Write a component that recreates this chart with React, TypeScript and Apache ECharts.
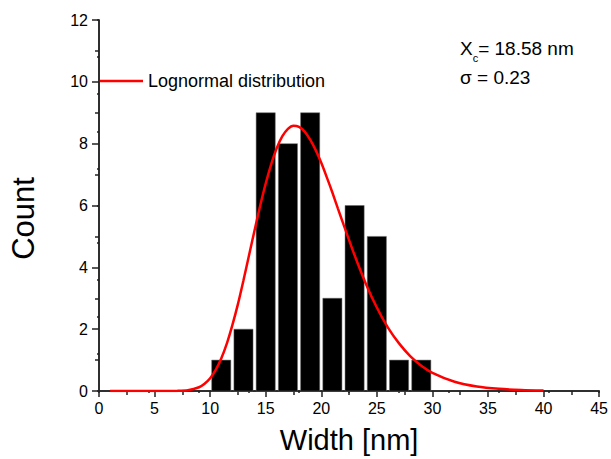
import React, { useEffect, useRef } from "react";
import * as echarts from "echarts";

// Histogram bins (centres, nm) and counts
const binCenters = [11, 13, 15, 17, 19, 21, 23, 25, 27, 29];
const counts = [1, 2, 9, 8, 9, 3, 6, 5, 1, 1];

// Lognormal fit curve
const fitX = [1, 2, 3, 4, 5, 6, 7, 8, 9, 9.5, 10, 10.5, 11, 11.5, 12, 12.5, 13, 13.5, 14, 14.5, 15, 15.5, 16, 16.5, 17, 17.5, 18, 18.5, 19, 19.5, 20, 20.5, 21, 21.5, 22, 23, 24, 25, 26, 27, 28, 29, 30, 32, 34, 36, 38, 40];
const fitY = [0, 0, 0, 0, 0, 0.0002, 0.003, 0.024, 0.12, 0.232, 0.41, 0.68, 1.05, 1.53, 2.13, 2.81, 3.58, 4.39, 5.2, 5.99, 6.71, 7.34, 7.86, 8.24, 8.48, 8.58, 8.54, 8.39, 8.13, 7.79, 7.38, 6.91, 6.42, 5.9, 5.39, 4.39, 3.48, 2.7, 2.05, 1.54, 1.13, 0.82, 0.59, 0.3, 0.145, 0.069, 0.032, 0.015];

const xTicks = { min: 0, max: 45, interval: 5 };
const yTicks = { min: 0, max: 12, interval: 2 };

const FONT = "Liberation Sans, Arial, sans-serif";
const AXIS_COLOR = "#222";

export default function App() {
  const ref = useRef<HTMLDivElement>(null);

  useEffect(() => {
    if (!ref.current) return;
    const chart = echarts.init(ref.current, undefined, { renderer: "svg" });
    const barData = binCenters.map((c, i) => [c, counts[i]]);
    const lineData = fitX.map((x, i) => [x, fitY[i]]);

    chart.setOption({
      animation: false,
      backgroundColor: "#fff",
      grid: { left: 97, right: 8, top: 20, bottom: 68, containLabel: false },
      legend: {
        data: ["Lognormal distribution"],
        left: 100,
        top: 72,
        padding: 0,
        icon: "rect",
        itemWidth: 43,
        itemHeight: 2.5,
        textStyle: { fontFamily: FONT, fontSize: 18, color: "#000" },
      },
      xAxis: [
        {
          type: "value",
          position: "bottom",
          min: xTicks.min,
          max: xTicks.max,
          interval: xTicks.interval,
          name: "Width [nm]",
          nameLocation: "middle",
          nameGap: 34,
          nameTextStyle: { fontFamily: FONT, fontSize: 29, color: "#000" },
          axisLine: { show: true, lineStyle: { color: AXIS_COLOR, width: 1.5 } },
          axisTick: { show: true, inside: false, length: 6, lineStyle: { color: AXIS_COLOR, width: 1.5 } },
          minorTick: { show: true, splitNumber: 2, length: 4, lineStyle: { color: AXIS_COLOR, width: 1.5 } },
          axisLabel: { fontFamily: FONT, fontSize: 16, color: "#000", margin: 9 },
          splitLine: { show: false },
        },
        {
          type: "value",
          position: "top",
          min: 0,
          max: 10,
          interval: 1,
          axisLine: { show: true, lineStyle: { color: AXIS_COLOR, width: 1.5 } },
          axisTick: { show: true, inside: true, length: 2, lineStyle: { color: AXIS_COLOR, width: 1.5 } },
          axisLabel: { show: false },
          splitLine: { show: false },
        },
      ],
      yAxis: [
        {
          type: "value",
          position: "left",
          min: yTicks.min,
          max: yTicks.max,
          interval: yTicks.interval,
          name: "Count",
          nameLocation: "middle",
          nameGap: 60,
          nameTextStyle: { fontFamily: FONT, fontSize: 31, color: "#000", padding: [0, 26, 0, 0] },
          axisLine: { show: true, lineStyle: { color: AXIS_COLOR, width: 1.5 } },
          axisTick: { show: true, inside: false, length: 7, lineStyle: { color: AXIS_COLOR, width: 1.5 } },
          minorTick: { show: true, splitNumber: 2, length: 4, lineStyle: { color: AXIS_COLOR, width: 1.5 } },
          axisLabel: { fontFamily: FONT, fontSize: 16, color: "#000", margin: 11 },
          splitLine: { show: false },
        },
        {
          type: "value",
          position: "right",
          min: 0,
          max: 10,
          interval: 1,
          axisLine: { show: true, lineStyle: { color: AXIS_COLOR, width: 1.5 } },
          axisTick: { show: true, inside: true, length: 2, lineStyle: { color: AXIS_COLOR, width: 1.5 } },
          axisLabel: { show: false },
          splitLine: { show: false },
        },
      ],
      series: [
        {
          name: "Counts",
          type: "custom",
          xAxisIndex: 0,
          yAxisIndex: 0,
          data: barData,
          renderItem: (params: any, api: any) => {
            const x = api.value(0);
            const y = api.value(1);
            const p0 = api.coord([x - 0.86, y]);
            const p1 = api.coord([x + 0.86, 0]);
            return {
              type: "rect",
              shape: { x: p0[0], y: p0[1], width: p1[0] - p0[0], height: p1[1] - p0[1] },
              style: { fill: "#000", stroke: "#666", lineWidth: 0.5 },
            };
          },
          z: 2,
        },
        {
          name: "Lognormal distribution",
          type: "line",
          xAxisIndex: 0,
          yAxisIndex: 0,
          data: lineData,
          smooth: 0.3,
          showSymbol: false,
          symbol: "none",
          lineStyle: { color: "#ff0000", width: 2.5 },
          itemStyle: { color: "#ff0000" },
          z: 3,
        },
      ],
      graphic: [
        {
          type: "text",
          left: 460,
          top: 39,
          style: {
            text: "{m|X}{sub|c}{m|= 18.58 nm}",
            fontFamily: FONT,
            fontSize: 19,
            fill: "#000",
            rich: {
              m: { fontFamily: FONT, fontSize: 19, verticalAlign: "top", lineHeight: 20 },
              sub: { fontFamily: FONT, fontSize: 11, verticalAlign: "top", lineHeight: 12, padding: [13, 0, 0, 0] },
            },
          },
        },
        {
          type: "text",
          left: 460,
          top: 68,
          style: {
            text: "σ = 0.23",
            fontFamily: FONT,
            fontSize: 19,
            fill: "#000",
          },
        },
      ],
    });

    return () => chart.dispose();
  }, []);

  return (
    <div
      ref={ref}
      style={{ position: "fixed", left: 0, top: 0, width: 611, height: 459, background: "#fff" }}
    />
  );
}
